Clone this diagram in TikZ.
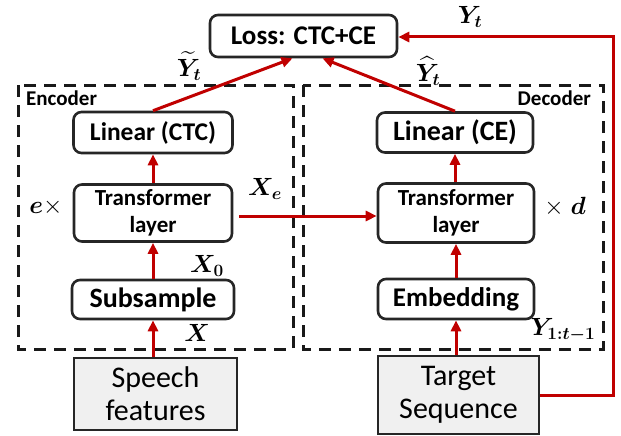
\documentclass[tikz,border=0pt]{standalone}
\usepackage{amsmath,bm}
\usepackage{fontspec}
\setmainfont{Carlito}
\usetikzlibrary{arrows.meta}
\definecolor{arrred}{HTML}{C00000}
\definecolor{boxline}{HTML}{262626}
\definecolor{inputfill}{HTML}{F0F0F0}
\tikzset{
  blk/.style={draw=boxline, line width=2.6pt, rounded corners=8pt, align=center, inner sep=0pt, font=\bfseries},
  inp/.style={draw=boxline, line width=2.6pt, fill=inputfill, align=center, inner sep=0pt},
  flow/.style={draw=arrred, line width=3pt, -{Triangle[length=11pt,width=10pt]}},
  dashbox/.style={draw=black!90, line width=3pt, dash pattern=on 12pt off 8pt},
  mlab/.style={inner sep=0pt},
}
\newcommand{\fs}[2]{\fontsize{#1}{#2}\selectfont}
\begin{document}
\begin{tikzpicture}[x=1pt,y=-1pt]
\useasboundingbox (0,0) rectangle (621,436);
% dashed containers
\draw[dashbox] (18,85) rectangle (293,349);
\draw[dashbox] (303,85) rectangle (603,349);
\node[mlab, anchor=north west, font=\fs{21}{21}\bfseries] (enclab) at (26,91) {Encoder};
\node[mlab, anchor=north east, font=\fs{21}{21}\bfseries] (declab) at (591,91) {Decoder};
% blocks
\node[blk, minimum width=187pt, minimum height=42pt, font=\fs{27}{27}\bfseries] (loss) at (303.5,36) {Loss: CTC+CE};
\node[blk, minimum width=159pt, minimum height=41pt, font=\fs{25.5}{26}\bfseries] (linctc) at (153,132.5) {Linear (CTC)};
\node[blk, minimum width=158pt, minimum height=57pt, font=\fs{23}{27}\bfseries] (enct) at (153,213) {Transformer\\layer};
\node[blk, minimum width=162pt, minimum height=39pt, font=\fs{28}{28}\bfseries] (sub) at (153,299.5) {Subsample};
\node[inp, minimum width=163pt, minimum height=72pt, font=\fs{30}{33}] (speech) at (155.5,394) {Speech\\features};
\node[blk, minimum width=156pt, minimum height=40pt, font=\fs{28}{28}\bfseries] (lince) at (455,132.5) {Linear (CE)};
\node[blk, minimum width=156pt, minimum height=59pt, font=\fs{23}{27}\bfseries] (dect) at (456,213) {Transformer\\layer};
\node[blk, minimum width=156pt, minimum height=40pt, font=\fs{27}{27}\bfseries] (emb) at (456,299) {Embedding};
\node[inp, minimum width=161pt, minimum height=78pt, font=\fs{30}{33}] (target) at (458.5,395) {Target\\Sequence};
% connectors
\draw[flow] (speech.north -| sub.south) -- (sub.south);
\draw[flow] (sub.north) -- (sub.north |- enct.south);
\draw[flow] (enct.north) -- (linctc.south);
\draw[flow] (linctc.north) -- ([xshift=-11pt]loss.south);
\draw[flow, shorten <=6pt] ([yshift=-3pt]enct.east) -- ([yshift=-3pt]dect.west);
\draw[flow] (target.north -| emb.south) -- (emb.south);
\draw[flow] (emb.north) -- (emb.north |- dect.south);
\draw[flow] (dect.north -| lince.south) -- (lince.south);
\draw[flow] (lince.north) -- ([xshift=19pt]loss.south);
\coordinate (fbA) at (613,395);
\coordinate (fbB) at (613,37);
\draw[flow] (target.east) -- (target.east -| fbA) -- (fbB) -- (loss.east |- fbB);
% math labels
\node[mlab, font=\fs{26}{26}] (ytil) at (189,66) {$\widetilde{\bm{Y}}_{\bm{t}}$};
\node[mlab, font=\fs{26}{26}] (yhat) at (428,71) {$\widehat{\bm{Y}}_{\bm{t}}$};
\node[mlab, font=\fs{26}{26}] (yt) at (470,17) {$\bm{Y}_{\bm{t}}$};
\node[mlab, font=\fs{26}{26}] (xe) at (265,189) {$\bm{X}_{\bm{e}}$};
\node[mlab, font=\fs{26}{26}] (x0) at (207,266) {$\bm{X}_{\bm{0}}$};
\node[mlab, font=\fs{26}{26}] (x) at (197,333) {$\bm{X}$};
\node[mlab, font=\fs{26}{26}] (etimes) at (46,207) {$\bm{e}\times$};
\node[mlab, font=\fs{26}{26}] (timesd) at (565,207) {$\times\;\bm{d}$};
\node[mlab, font=\fs{26}{26}] (yprev) at (563,330) {$\bm{Y}_{\bm{1:t-1}}$};
\end{tikzpicture}
\end{document}
